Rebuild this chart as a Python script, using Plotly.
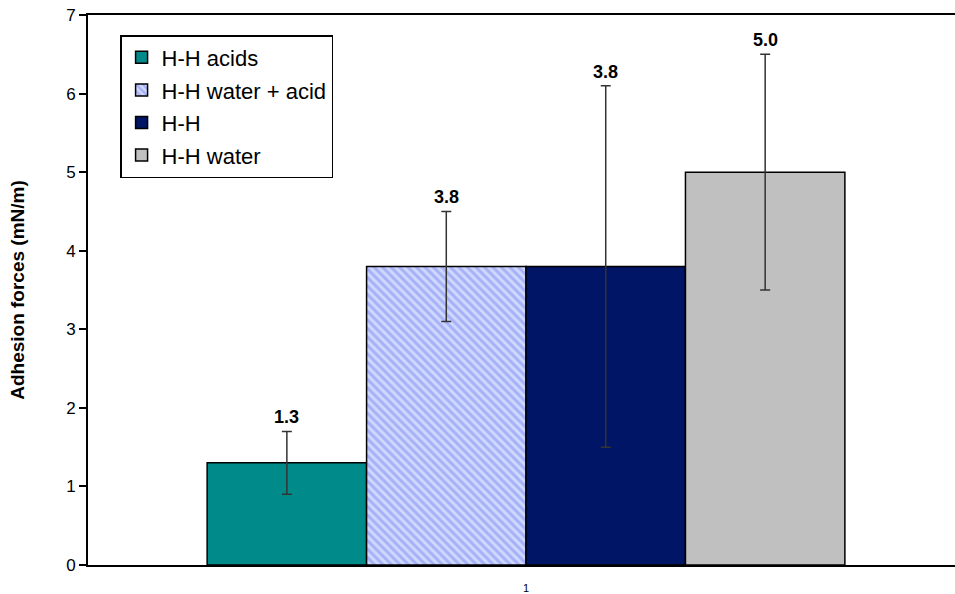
import plotly.graph_objects as go

series_names = ["H-H acids", "H-H water + acid", "H-H", "H-H water"]
values = [1.3, 3.8, 3.8, 5.0]
errors = [0.4, 0.7, 2.3, 1.5]
value_labels = ["1.3", "3.8", "3.8", "5.0"]
category = [1]
tick_labels = ["1"]
y_ticks = [0, 1, 2, 3, 4, 5, 6, 7]

colors = ["#008B8A", "#D0D8FF", "#001565", "#C0C0C0"]
patterns = ["", "\\", "", ""]
pattern_fg = ["#008B8A", "#7B8BEE", "#001565", "#C0C0C0"]

bar_w = 0.182
fig = go.Figure()
for i, name in enumerate(series_names):
    off = -2 * bar_w + i * bar_w
    fig.add_trace(go.Bar(
        x=category, y=[values[i]], name=name,
        width=bar_w, offset=off,
        marker=dict(color=colors[i], line=dict(color="#000000", width=1.5),
                    pattern=dict(shape=patterns[i], fgcolor=pattern_fg[i], bgcolor=colors[i],
                                 size=6, solidity=0.5) if patterns[i] else None),
        error_y=dict(type="data", array=[errors[i]], visible=True,
                     color="#333333", thickness=1.5, width=5),
        legendgroup=name,
    ))
    fig.add_annotation(x=category[0] + off + bar_w / 2, y=values[i] + errors[i],
                       text="<b>" + value_labels[i] + "</b>", showarrow=False,
                       yanchor="bottom", yshift=2,
                       font=dict(family="Arial", size=18, color="#000000"))

fig.update_layout(
    width=955, height=594,
    margin=dict(l=88, r=0, t=15, b=29),
    paper_bgcolor="white", plot_bgcolor="white",
    barmode="overlay",
    showlegend=True,
    legend=dict(x=0.037, y=0.9636, xanchor="left", yanchor="top",
                bordercolor="#000000", borderwidth=1.5, bgcolor="white",
                font=dict(family="Arial", size=22, color="#000000"),
                tracegroupgap=1, itemwidth=30),
    font=dict(family="Arial", color="#000000"),
)
fig.update_xaxes(range=[0.5, 1.4897], tickvals=category, ticktext=tick_labels,
                 showline=True, mirror=True, linecolor="#000000", linewidth=2,
                 ticks="outside", ticklen=12, tickcolor="rgba(0,0,0,0)",
                 showgrid=False, zeroline=False,
                 tickfont=dict(family="Arial", size=11, color="#000000"))
fig.update_yaxes(range=[0, 7], tickvals=y_ticks, showline=True, linecolor="#000000",
                 linewidth=2, ticks="outside", ticklen=7, tickwidth=1.5, tickcolor="#000000",
                 showgrid=False, zeroline=False,
                 tickfont=dict(family="Arial", size=17, color="#000000"),
                 title=dict(text="<b>Adhesion forces (mN/m)</b>", standoff=36,
                            font=dict(family="Arial", size=19, color="#000000")))

fig.write_html("out.html", config={"displayModeBar": False},
               post_script="document.body.style.margin='0';document.body.style.overflow='hidden';")
